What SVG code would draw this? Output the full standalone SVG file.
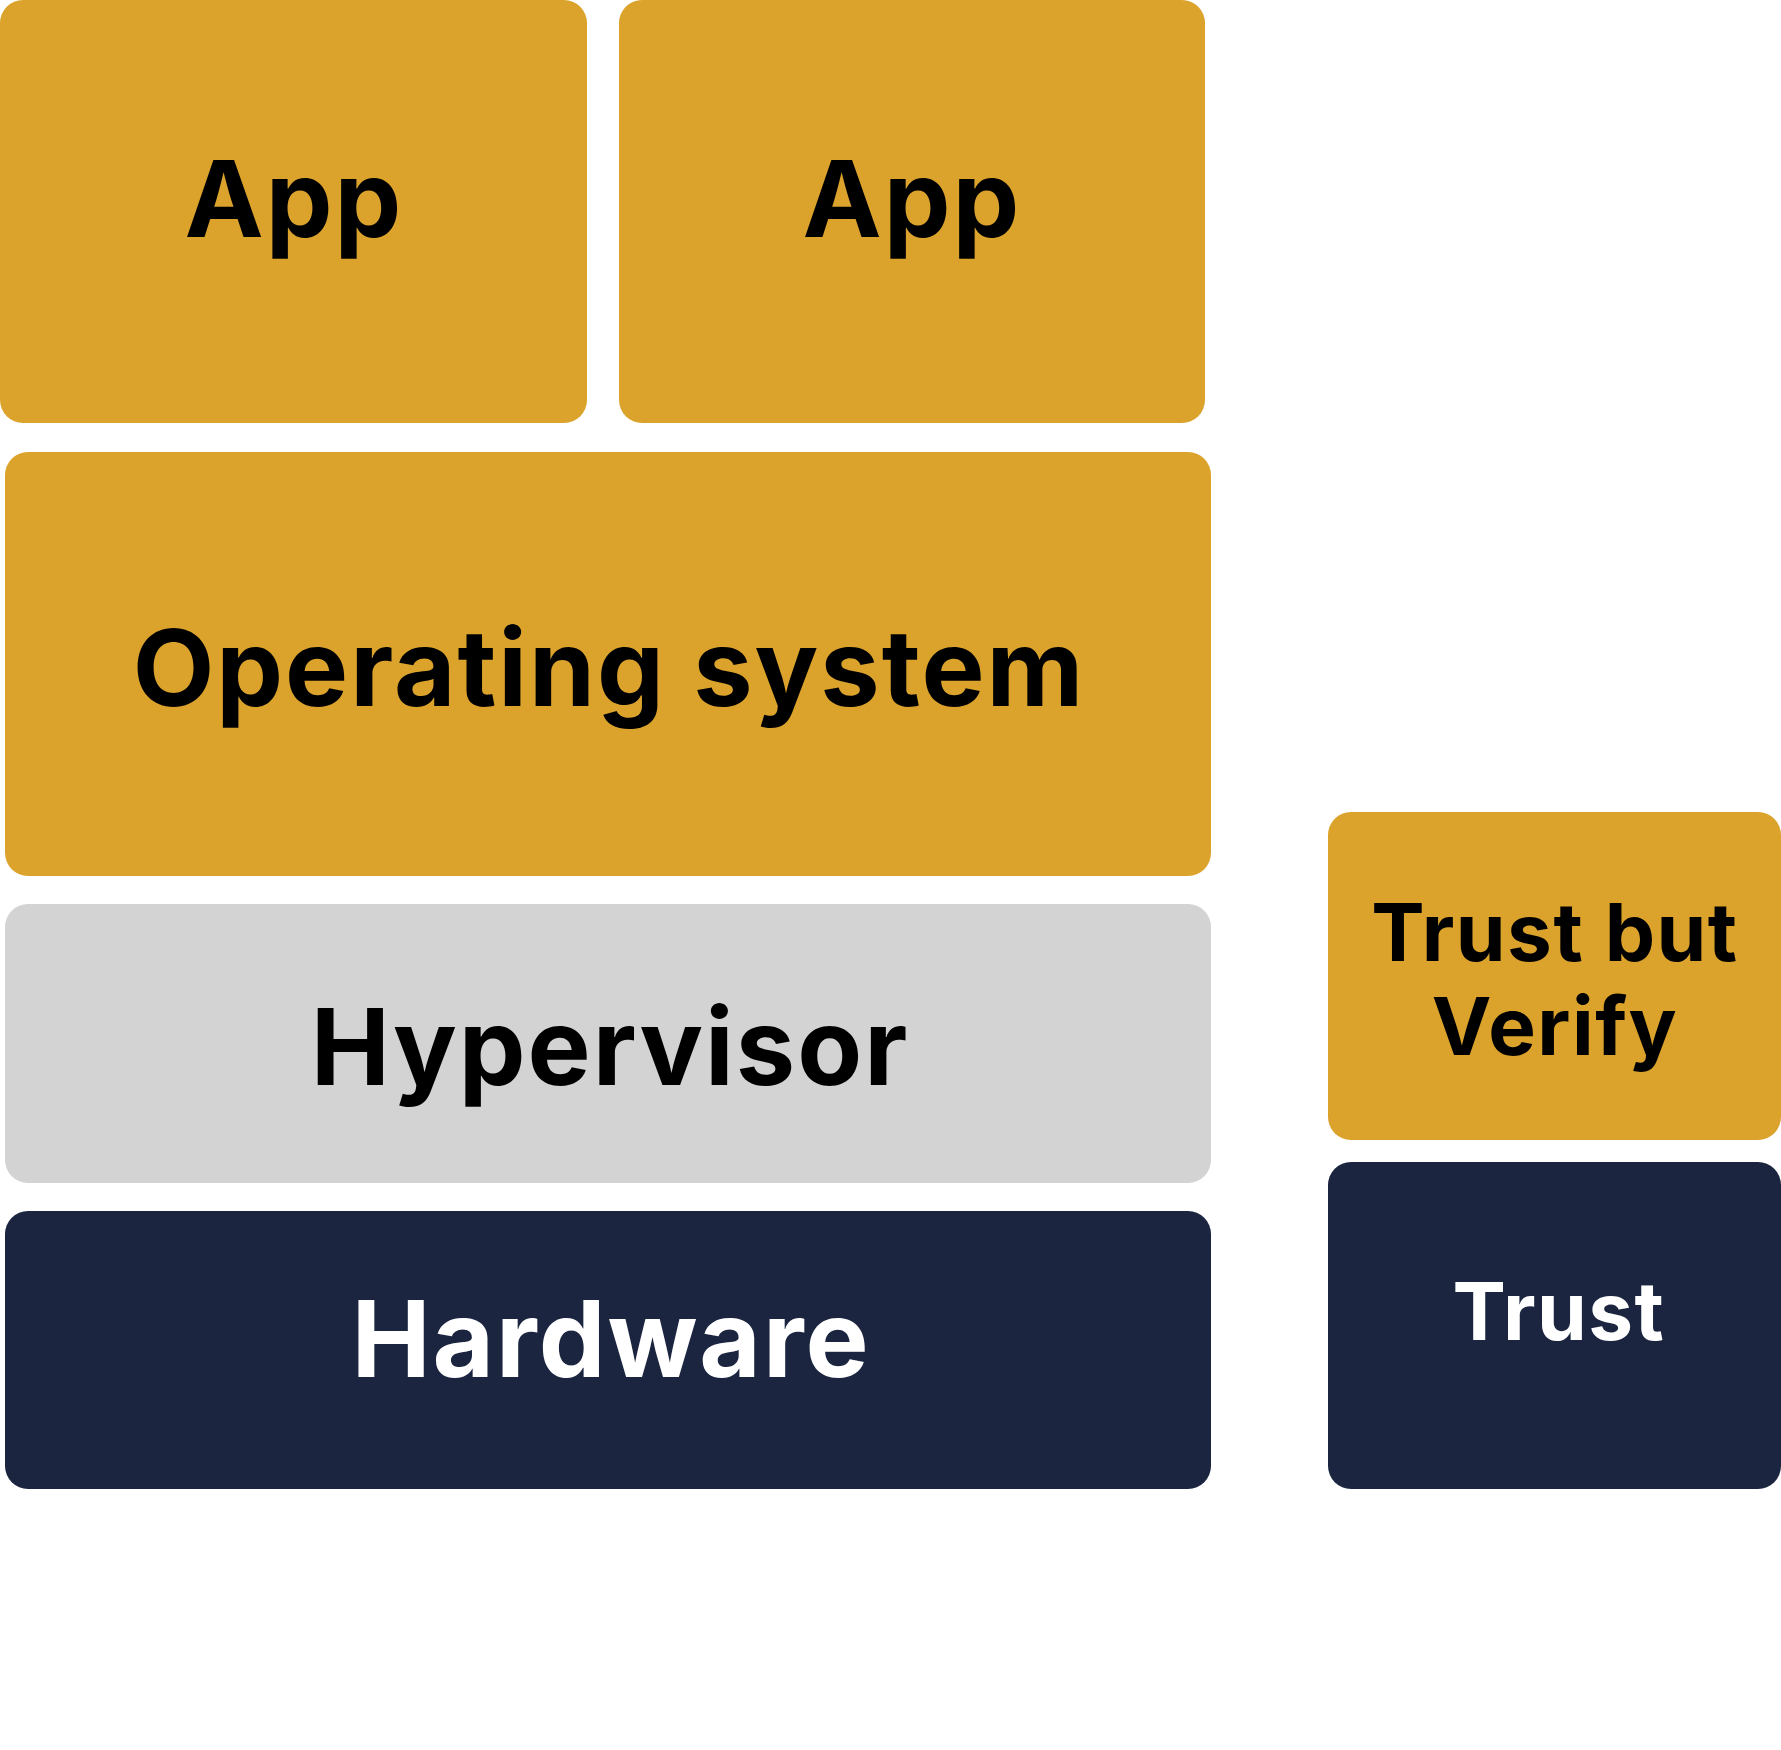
<svg xmlns="http://www.w3.org/2000/svg" width="1781" height="1750" viewBox="0 0 1781 1750">
<style>
.gold{fill:#DBA32C}
.gray{fill:#D3D3D3}
.navy{fill:#1B2540}
.t{font-family:Inter,"Liberation Sans",sans-serif;font-weight:700;text-anchor:middle}
.big{font-size:106px;letter-spacing:2px}
.mid{font-size:80px;letter-spacing:1.5px}
.dk{fill:#000}
.lt{fill:#fff}
</style>
<rect width="1781" height="1750" fill="#fff"/>
<g id="app1"><rect class="gold" x="0" y="0" width="587" height="423" rx="23"/><text class="t big dk" x="294" y="237">App</text></g>
<g id="app2"><rect class="gold" x="619" y="0" width="586" height="423" rx="23"/><text class="t big dk" x="912" y="237">App</text></g>
<g id="os"><rect class="gold" x="5" y="452" width="1206" height="424" rx="23"/><text class="t big dk" x="609" y="706">Operating system</text></g>
<g id="hypervisor"><rect class="gray" x="5" y="904" width="1206" height="279" rx="23"/><text class="t big dk" x="610" y="1085">Hypervisor</text></g>
<g id="hardware"><rect class="navy" x="5" y="1211" width="1206" height="278" rx="23"/><text class="t big lt" x="611" y="1377">Hardware</text></g>
<g id="tbv"><rect class="gold" x="1328" y="812" width="453" height="328" rx="23"/><text class="t mid dk" x="1555" y="961">Trust but</text><text class="t mid dk" x="1555" y="1055">Verify</text></g>
<g id="trust"><rect class="navy" x="1328" y="1162" width="453" height="327" rx="23"/><text class="t mid lt" x="1559" y="1340">Trust</text></g>
<g id="connectors"/>
</svg>
